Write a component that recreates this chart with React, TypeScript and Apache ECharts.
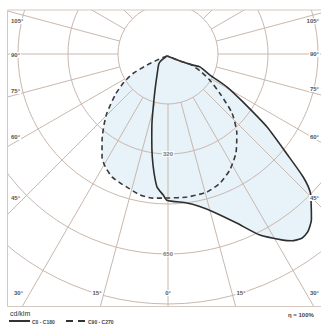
import React, { useEffect, useRef } from 'react';
import * as echarts from 'echarts';

// Photometric data (gamma in degrees, + = right half, - = left half; intensity in cd/klm)
const gammaSolid = [-27, 60, 66, 68, 63.4, 60.8, 57.4, 53.6, 49.8, 47.7, 45.8, 43.2, 40.9, 38.2, 36, 33.5, 31.7, 26.9, 22.1, 15.9, 11.5, 7.2, -0.5, -2, -4.7, -6.7, -8.7, -10.7, -13.1, -15.6, -19.9, -29, -42.9, -46, -27];
const intensitySolid = [7, 45, 89, 112, 153, 220, 289, 400, 510, 594, 645, 680, 712, 735, 740, 728, 711, 660, 593, 533, 505, 488, 475, 458, 434, 389, 338, 284, 230, 178, 124, 72, 44, 31, 7];

const gammaDashed = [-27, -61, -62, -61, -57.4, -52.5, -46, -42, -37.5, -32.6, -29, -24.5, -20.4, -16.6, -11.2, -5.9, 0, 7.6, 15.8, 22, 28.1, 34.5, 41, 47.3, 52.5, 58, 62, 65, 60, -27];
const intensityDashed = [7, 41, 78, 129, 170, 215, 276, 311, 352, 398, 420, 439, 447, 454, 467, 471, 468, 469, 466, 452, 427, 390, 341, 283, 215, 160, 120, 80, 45, 7];

const radiusTickValues = [325, 650];
const radiusTickLabels = ['320', '650'];
const angleTickLabelsLeft = ['105°', '90°', '75°', '60°', '45°', '30°'];
const angleTickLabelsBottom = ['15°', '0°', '15°'];
const angleTickLabelsRight = ['30°', '45°', '60°', '75°', '90°', '105°'];
const legendNames = ['C0 - C180', 'C90 - C270'];
const unitLabel = 'cd/klm';
const efficiencyLabel = 'η = 100%';

const W = 321;
const H = 327;
const CX = 168;
const CY = 54;
const R = 300;
const STEP = 162.5;
const MAXI = 975;
const GRID = '#c9b8ae';
const FILL = '#e7f2f9';
const TXT = '#555';
const FONT = 'Liberation Sans, Arial, sans-serif';

const toPolar = (g: number[], v: number[]) => g.map((a, i) => [v[i], (a + 360) % 360]);

export default function App() {
  const ref = useRef<HTMLDivElement>(null);
  useEffect(() => {
    if (!ref.current) return;
    const chart = echarts.init(ref.current, undefined, { renderer: 'svg' });
    const solid = toPolar(gammaSolid, intensitySolid);
    const dashed = toPolar(gammaDashed, intensityDashed);

    const leftY = [21, 55, 91, 137, 198];
    const bottomX = [97, 168, 241];
    const rightY = [198, 137, 89, 54, 21];
    const lbl = (text: string, x: number, y: number, align: string) => ({
      type: 'text', z: 20, x, y,
      style: { text, fill: TXT, font: `bold 6px ${FONT}`, align, verticalAlign: 'middle', backgroundColor: '#fff', padding: [0, 1] },
    });
    const graphics: any[] = [
      { type: 'rect', z: 15, shape: { x: 0, y: 0, width: W, height: 10 }, style: { fill: '#fff' } },
      { type: 'rect', z: 15, shape: { x: 0, y: 0, width: 7, height: H }, style: { fill: '#fff' } },
      { type: 'rect', z: 15, shape: { x: 0, y: 306.5, width: W, height: 30 }, style: { fill: '#fff' } },
      { type: 'polyline', z: 16, shape: { points: [[W + 2, 10], [7.5, 10], [7.5, 306.5], [W + 2, 306.5]] }, style: { stroke: '#d3c7bf', lineWidth: 1, fill: null } },
    ];
    angleTickLabelsLeft.forEach((t, i) => {
      if (i < 5) graphics.push(lbl(t, 10, leftY[i], 'left'));
      else graphics.push(lbl(t, 13, 293, 'left'));
    });
    angleTickLabelsBottom.forEach((t, i) => graphics.push(lbl(t, bottomX[i], 293, 'center')));
    angleTickLabelsRight.forEach((t, i) => {
      if (i === 0) graphics.push(lbl(t, 320, 293, 'right'));
      else graphics.push(lbl(t, 320, rightY[i - 1], 'right'));
    });
    graphics.push(
      { type: 'text', z: 20, x: 10, y: 313, style: { text: unitLabel, fill: '#333', font: `7px ${FONT}`, verticalAlign: 'middle' } },
      { type: 'line', z: 20, shape: { x1: 9, y1: 321, x2: 30, y2: 321 }, style: { stroke: '#333', lineWidth: 2 } },
      { type: 'text', z: 20, x: 32, y: 322, style: { text: legendNames[0], fill: '#444', font: `bold 5px ${FONT}`, verticalAlign: 'middle' } },
      { type: 'line', z: 20, shape: { x1: 66, y1: 321, x2: 85, y2: 321 }, style: { stroke: '#333', lineWidth: 2, lineDash: [7, 5] } },
      { type: 'text', z: 20, x: 88, y: 322, style: { text: legendNames[1], fill: '#444', font: `bold 5px ${FONT}`, verticalAlign: 'middle' } },
      { type: 'text', z: 20, x: 288, y: 315, style: { text: efficiencyLabel, fill: '#444', font: `bold 6px ${FONT}`, verticalAlign: 'middle' } },
    );

    chart.setOption({
      animation: false,
      backgroundColor: '#fff',
      polar: [
        { center: [CX, CY], radius: [50, R] },
        { center: [CX, CY], radius: [0, R] },
      ],
      angleAxis: [
        {
          polarIndex: 0, type: 'value', min: 0, max: 360, interval: 15, startAngle: -90, clockwise: false, z: 3,
          axisLine: { show: false }, axisTick: { show: false }, axisLabel: { show: false },
          splitLine: { show: true, lineStyle: { color: GRID, width: 1 } },
        },
        { polarIndex: 1, type: 'value', min: 0, max: 360, startAngle: -90, clockwise: false, show: false },
      ],
      radiusAxis: [
        {
          polarIndex: 0, type: 'value', min: STEP, max: MAXI, interval: STEP, z: 3,
          axisLine: { show: false }, axisTick: { show: false }, axisLabel: { show: false },
          splitLine: { show: true, lineStyle: { color: GRID, width: 1 } },
        },
        { polarIndex: 1, type: 'value', min: 0, max: MAXI, show: false },
      ],
      series: [
        { type: 'line', coordinateSystem: 'polar', polarIndex: 1, data: solid, smooth: 0.2, symbol: 'none', silent: true, z: 2, lineStyle: { width: 0, opacity: 0 }, areaStyle: { color: FILL, opacity: 1 } },
        { type: 'line', coordinateSystem: 'polar', polarIndex: 1, data: dashed, smooth: 0.2, symbol: 'none', silent: true, z: 2, lineStyle: { width: 0, opacity: 0 }, areaStyle: { color: FILL, opacity: 1 } },
        { type: 'line', coordinateSystem: 'polar', polarIndex: 1, data: solid, smooth: 0.2, symbol: 'none', silent: true, z: 5, lineStyle: { color: '#2e2e2e', width: 1.6 } },
        { type: 'line', coordinateSystem: 'polar', polarIndex: 1, data: dashed, smooth: 0.2, symbol: 'none', silent: true, z: 5, lineStyle: { color: '#3a3a3a', width: 1.6, type: [5, 3.5] } },
        {
          type: 'scatter', coordinateSystem: 'polar', polarIndex: 1, z: 6, symbolSize: 1, silent: true,
          itemStyle: { color: 'rgba(0,0,0,0)' },
          data: radiusTickValues.map((v) => [v, 0]),
          label: {
            show: true, position: 'inside', formatter: (p: any) => radiusTickLabels[p.dataIndex],
            fontSize: 6, fontWeight: 'bold', fontFamily: FONT, color: TXT, backgroundColor: '#fff', padding: [0, 1],
          },
        },
      ],
      graphic: graphics,
    });
    return () => chart.dispose();
  }, []);
  return <div ref={ref} style={{ position: 'absolute', left: 0, top: 0, width: W, height: H }} />;
}
